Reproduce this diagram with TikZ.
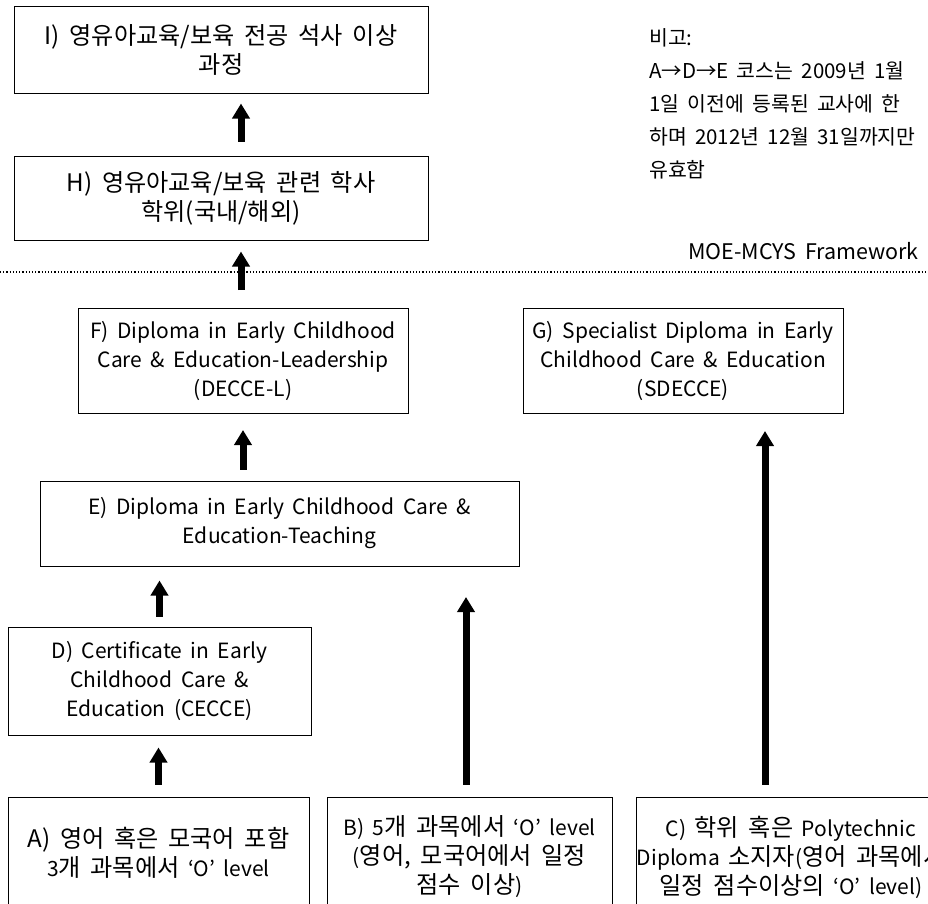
\documentclass[tikz,border=0pt]{standalone}
\usepackage{fontspec}
\setmainfont{Noto Sans CJK KR}[WordSpace=1.8]
\newfontfamily\krfont{Noto Sans CJK KR}[Scale=1.15, WordSpace=1.8]
\newcommand\kr[1]{{\krfont #1}}
\usetikzlibrary{arrows.meta}
\begin{document}
\begin{tikzpicture}[x=1pt,y=-1pt,
  box/.style={draw, line width=1pt, align=center, inner sep=0pt,
    font=\fontsize{21}{29}\selectfont},
  krbox/.style={box, font=\krfont\fontsize{21}{29}\selectfont},
  up/.style={line width=7pt, -{Triangle[length=15pt,width=17pt]}},
  sep/.style={dotted, line width=1.2pt},
  notetext/.style={align=left, inner sep=0pt, font=\krfont\fontsize{17.8}{33}\selectfont},
]
\useasboundingbox (0,0) rectangle (928,903);
\clip (0,0) rectangle (928,903);

% upper tier
\node[krbox, minimum width=414pt, minimum height=87pt] (I) at (221,49.5)
  {I) 영유아교육/보육 전공 석사 이상\\과정};
\node[krbox, minimum width=414pt, minimum height=84pt] (H) at (221,198)
  {H) 영유아교육/보육 관련 학사\\학위(국내/해외)};

% framework boundary
\coordinate (sepL) at (0,272);
\coordinate (sepR) at (928,272);
\draw[sep] (sepL) -- (sepR);
\node[anchor=base east, inner sep=0pt, font=\fontsize{21.5}{24}\selectfont] (fw) at (919,259)
  {MOE-MCYS Framework};

% remark
\node[notetext, anchor=north west] (note) at (649,28)
  {비고:\\A→D→E 코스는 2009년 1월\\1일 이전에 등록된 교사에 한\\하며 2012년 12월 31일까지만\\유효함};

% diplomas and certificate
\node[box, minimum width=330pt, minimum height=105pt] (F) at (243,361)
  {F) Diploma in Early Childhood\\Care \& Education-Leadership\\(DECCE-L)};
\node[box, minimum width=320pt, minimum height=105pt] (G) at (683,361)
  {G) Specialist Diploma in Early\\Childhood Care \& Education\\(SDECCE)};
\node[box, minimum width=479pt, minimum height=85pt] (E) at (279.5,523.5)
  {E) Diploma in Early Childhood Care \&\\Education-Teaching};
\node[box, minimum width=303pt, minimum height=108pt] (D) at (159.5,681)
  {D) Certificate in Early\\Childhood Care \&\\Education (CECCE)};

% entry requirements
\node[box, minimum width=301pt, minimum height=112pt] (A) at (158.5,853)
  {\kr{A) 영어 혹은 모국어 포함}\\3\kr{개 과목에서} ‘O’ level};
\node[box, minimum width=285pt, minimum height=120pt] (B) at (469.5,857)
  {B) 5\kr{개 과목에서} ‘O’ level\\(\kr{영어, 모국어에서 일정}\\\kr{점수 이상})};
\node[box, minimum width=298pt, minimum height=120pt] (C) at (791,857)
  {C) \kr{학위 혹은} Polytechnic\\Diploma \kr{소지자}(\kr{영어 과목에서}\\\kr{일정 점수이상의} ‘O’ level)};

% progression arrows
\coordinate (xa) at (241,0);
\coordinate (h0) at (241,290);
\coordinate (bt) at (466,597);
\coordinate (xc) at (765,0);
\draw[up, shorten <=14pt, shorten >=10pt] (H.north -| xa) -- (I.south -| xa);
\draw[up, shorten >=11pt] (h0) -- (H.south -| h0);
\draw[up, shorten <=11pt, shorten >=16pt] (E.north -| F.south) -- (F.south);
\draw[up, shorten <=10pt, shorten >=14pt] (D.north) -- (E.south -| D.north);
\draw[up, shorten <=12pt, shorten >=12pt] (A.north) -- (D.south -| A.north);
\draw[up, shorten <=12pt] (B.north -| bt) -- (bt);
\draw[up, shorten <=12pt, shorten >=17pt] (C.north -| xc) -- (G.south -| xc);
\end{tikzpicture}
\end{document}
